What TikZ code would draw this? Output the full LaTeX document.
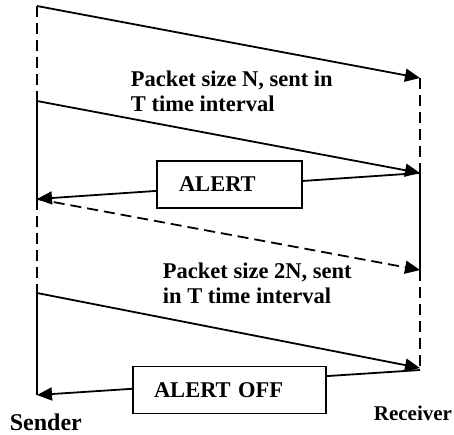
\documentclass[tikz,border=0pt]{standalone}
\usepackage{fontspec}
\setmainfont{Liberation Serif}
\usetikzlibrary{arrows.meta}

\begin{document}
\begin{tikzpicture}[x=1pt,y=-1pt,line width=1.8pt,
  msg/.style={-{Triangle[length=15pt,width=13pt]}},
  idle/.style={dash pattern=on 11pt off 6pt},
  box/.style={draw,fill=white,inner ysep=0pt,minimum height=47pt,align=left,
    font=\fontsize{22.5}{25}\selectfont\bfseries},
  lbl/.style={inner sep=0pt,align=left,font=\fontsize{22.5}{25}\selectfont\bfseries}]
\useasboundingbox (0,0) rectangle (454,434);
% sender
\coordinate (s0) at (37,6);
\coordinate (s1) at (37,101);
\coordinate (s2) at (37,199);
\coordinate (s3) at (37,293);
\coordinate (s4) at (37,395);
% receiver
\coordinate (r0) at (420,78);
\coordinate (r1) at (420,173);
\coordinate (r2) at (420,270);
\coordinate (r3) at (420,368);
\coordinate (r4) at (420,370);

\draw[idle] (s0) -- (s1);
\draw (s1) -- (s2);
\draw[idle] (s2) -- (s3);
\draw (s3) -- (s4);
\draw[idle] (r0) -- (r1);
\draw (r1) -- (r2);
\draw[idle] (r2) -- (r3);

% packets
\draw[msg] (s0) -- (r0);
\draw[msg] (s1) -- (r1);
\draw[msg,idle] (s2) -- (r2);
\draw[msg] (s3) -- (r3);
% alerts back to the sender
\draw[msg] (r1) -- (s2);
\draw[msg] (r4) -- (s4);
\node[box,inner xsep=22pt,text width=101pt] (alert) at (229.5,184.5) {ALERT};
\node[box,inner xsep=21pt,text width=151pt] (alertoff) at (229.5,390) {ALERT OFF};

\node[lbl,anchor=north west] (pkt1) at (130,70) {Packet size N, sent in\\T time interval};
\node[lbl,anchor=north west] (pkt2) at (162,262) {Packet size 2N, sent\\in T time interval};
\node[inner sep=0pt,anchor=base west,font=\fontsize{24}{28}\selectfont\bfseries] (snd) at (9,430) {Sender};
\node[inner sep=0pt,anchor=base west,font=\fontsize{21}{24}\selectfont\bfseries] (rcv) at (373,420) {Receiver};
\end{tikzpicture}
\end{document}
